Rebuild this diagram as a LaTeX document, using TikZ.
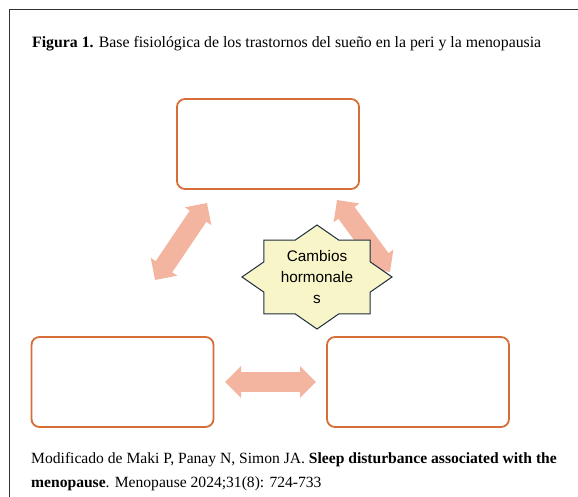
\documentclass[tikz,border=0pt]{standalone}
\usepackage{fontspec}
\setmainfont{Liberation Serif}
\newfontfamily\starfont{Liberation Sans}
\usepackage{tikz}
\usetikzlibrary{arrows.meta,positioning,calc}

\definecolor{boxorange}{RGB}{214,110,55}
\definecolor{arrowsalmon}{RGB}{243,180,160}
\definecolor{starfill}{RGB}{248,245,200}
\definecolor{starline}{RGB}{30,45,60}
\definecolor{framegray}{RGB}{50,50,50}

\begin{document}
\begin{tikzpicture}[x=1pt,y=-1pt]
			\tikzstyle{StageBox}	= [rectangle, draw=boxorange, line width=1.8pt, rounded corners=8pt, fill=white, minimum width=182pt, minimum height=90pt, inner sep=0pt]
			\tikzstyle{BlockArrow}	= [arrowsalmon, line width=20pt, {Triangle[length=16pt,width=31pt]}-{Triangle[length=16pt,width=31pt]}]
			\tikzstyle{HormStar}	= [draw=starline, fill=starfill, line width=1pt, line join=miter]
			\tikzstyle{Frame}		= [draw=framegray, line width=1pt]
			
			\useasboundingbox (0,0) rectangle (578,497);
			\draw [Frame] (9,497) -- (9,10) -- (578,10);
			
			\node (title) [anchor=base west, inner sep=0pt, font=\fontsize{15.8}{18}\selectfont] at (32,48) {\textbf{Figura 1.} Base fisiológica de los trastornos del sueño en la peri y la menopausia};
			
			\foreach \n/\x/\y in {top/268/144, left/122.5/382, right/418/382}
				\node (\n) at (\x, \y) [StageBox] {};
			
			% double arrows between the boxes
			\foreach \n/\ax/\ay/\bx/\by in {l/155/280/207/203, r/337/200/390/272, b/225/382/316/382} {
				\coordinate (\n1) at (\ax, \ay);
				\coordinate (\n2) at (\bx, \by);
				\draw [BlockArrow] (\n1) to (\n2);
			}
			
			% eight point star
			\draw [HormStar] (317,277) ++(0:75 and 52)
				\foreach \a in {0,45,...,315} { -- ($(317,277)+(\a+22.5:57.4 and 39.8)$) -- ($(317,277)+(\a+45:75 and 52)$) } -- cycle;
			\node (horm) at (317, 277) [align=center, font=\starfont\fontsize{15.3}{21}\selectfont] {Cambios\\hormonale\\s};
			
			\node (source) [anchor=base west, inner sep=0pt, align=left, font=\fontsize{15.6}{24}\selectfont] at (31,487) {Modificado de Maki P, Panay N, Simon JA. \textbf{Sleep disturbance associated with the}\\\textbf{menopause}. Menopause 2024;31(8): 724-733};
		\end{tikzpicture}
\end{document}
